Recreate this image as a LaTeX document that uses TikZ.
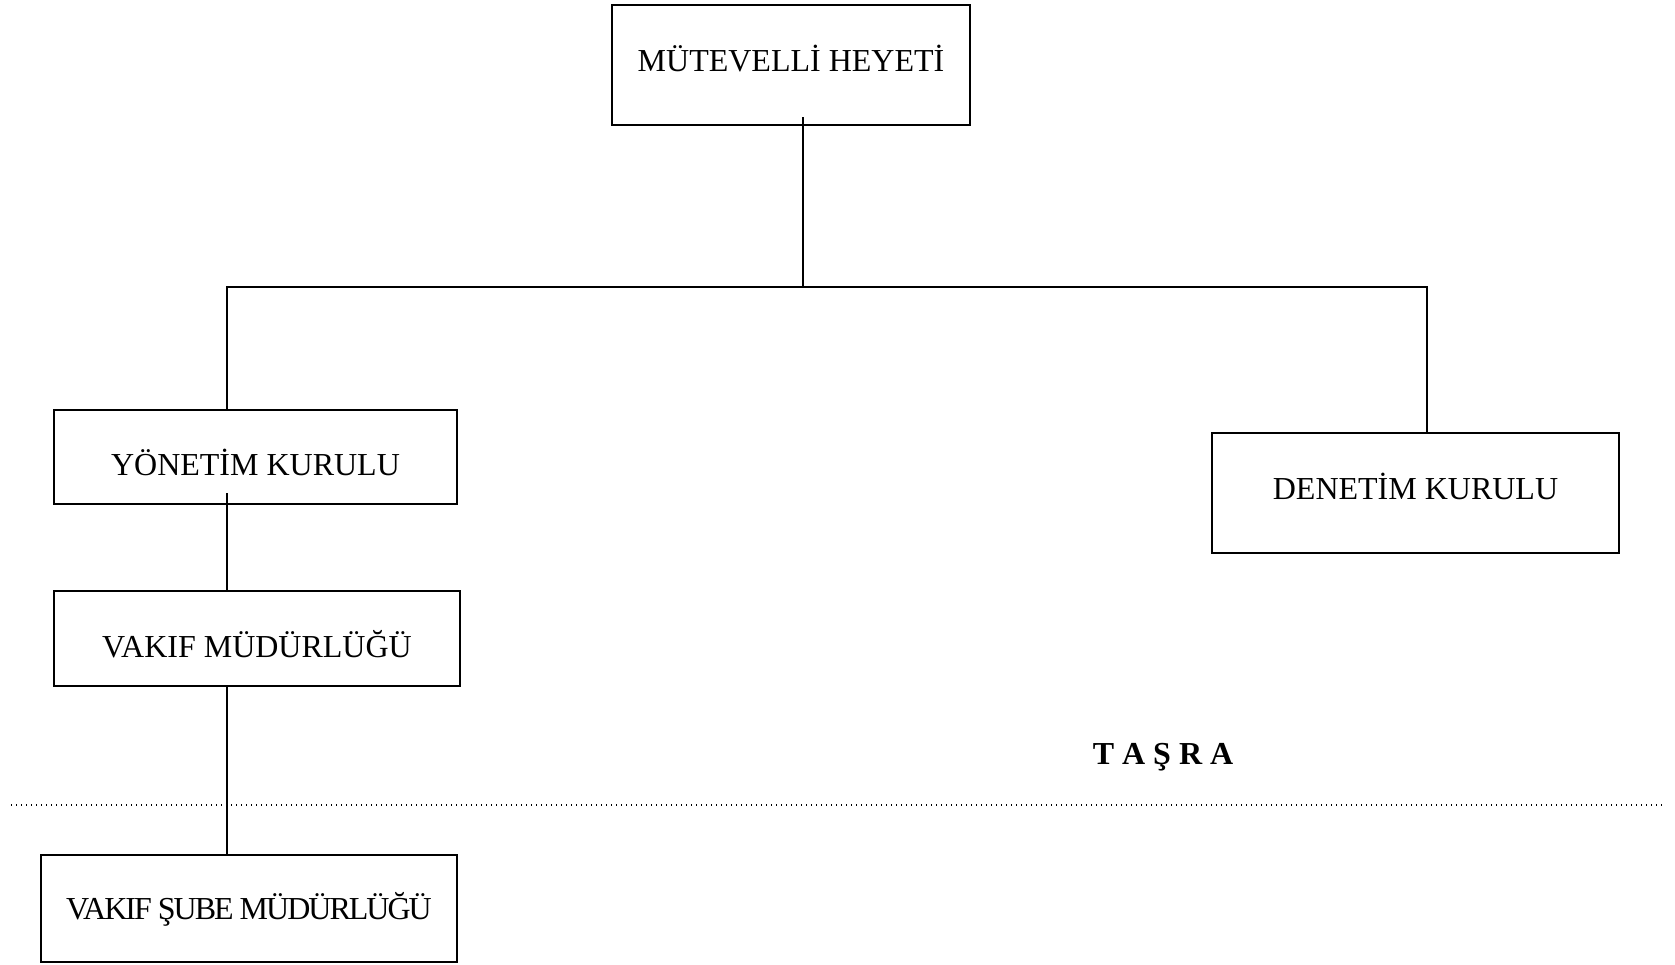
\documentclass[tikz,border=0pt]{standalone}
\usepackage{fontspec}
\setmainfont{Liberation Serif}
\newfontfamily\dar[LetterSpace=-6.2]{Liberation Serif}
\usetikzlibrary{positioning,calc}
\tikzset{
  box/.style  ={draw=black, line width=2.8pt, fill=white, inner sep=0pt, text depth=0pt, font=\fontsize{32}{38}\selectfont},
  ln/.style   ={draw=black, line width=1.3pt},
  sinir/.style={draw=black, line width=1.4pt, dash pattern=on 1.4pt off 3.6pt},
  lbl/.style  ={font=\fontsize{32}{38}\selectfont\bfseries},
}

\begin{document}
\begin{tikzpicture}[x=1pt,y=-1pt]
    \useasboundingbox (0,0) rectangle (1675,964);
    \node[box,minimum width=358pt,minimum height=120pt,text height=13.2pt] (mh) at (791,65)
      {MÜTEVELLİ HEYETİ};
    \node[box,minimum width=403pt,minimum height=94pt,text height=37.2pt] (yk) at (255.5,457)
      {YÖNETİM KURULU};
    \node[box,minimum width=407pt,minimum height=120pt,text height=12.2pt] (dk) at (1415.5,493)
      {DENETİM KURULU};
    \node[box,minimum width=406pt,minimum height=95pt,text height=37.2pt] (vm) at (257,638.5)
      {VAKIF MÜDÜRLÜĞÜ};
    \node[box,minimum width=416pt,minimum height=107pt,text height=21.2pt] (sm) at (249,908.5)
      {\dar VAKIF ŞUBE MÜDÜRLÜĞÜ};
    \coordinate (bas) at (803,287);
    \coordinate (sol) at (227,287);
    \coordinate (sag) at (1427,287);
    \coordinate (ksol) at (11,805);
    \coordinate (ksag) at (1665,805);
    \node[lbl,anchor=base] (ts) at (1163,764) {T A Ş R A};
    % baglantilar
    \draw[ln] (mh.south -| bas) ++(0,-9) -- (bas);
    \draw[ln] (yk.north -| sol) -- (sol) -- (sag) -- (dk.north -| sag);
    \draw[ln] (yk.south -| sol) ++(0,-12) -- (vm.north -| sol);
    \draw[sinir] (ksol) -- (ksag);
    \draw[ln] (vm.south -| sol) -- (sm.north -| sol);
  \end{tikzpicture}
\end{document}
